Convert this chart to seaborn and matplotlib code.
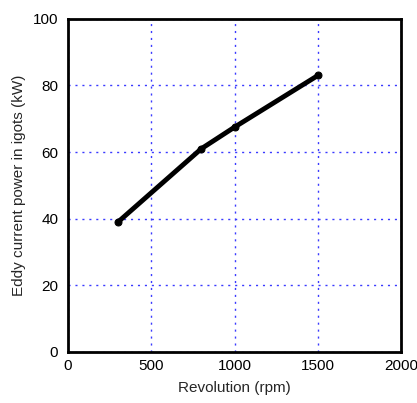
import matplotlib
matplotlib.use("Agg")
import matplotlib.pyplot as plt
import seaborn as sns
import pandas as pd

revolution = [300, 800, 1000, 1500]
power = [39, 61, 67.5, 83]
xticks = [0, 500, 1000, 1500, 2000]
yticks = [0, 20, 40, 60, 80, 100]

sns.set_style("white")
plt.rcParams['font.family'] = ['Liberation Sans', 'DejaVu Sans']

df = pd.DataFrame({"rev": revolution, "pw": power})
fig = plt.figure(figsize=(4.17, 4.03), dpi=100)
ax = fig.add_axes([0.163, 0.1266, 0.799, 0.8266])
sns.lineplot(data=df, x="rev", y="pw", ax=ax, color="black", linewidth=3.5,
             marker="o", markersize=5, markeredgecolor="black")
ax.set_xlim(0, 2000)
ax.set_ylim(0, 100)
ax.set_xticks(xticks)
ax.set_yticks(yticks)
ax.grid(True, color="#3a3aff", linestyle=(0, (1.5, 3.5)), linewidth=1.0)
ax.tick_params(direction="in", length=10, width=2, labelsize=11, colors="black", pad=5)
ax.tick_params(axis="y", pad=7)
for s in ax.spines.values():
    s.set_linewidth(2)
    s.set_color("black")
ax.set_xlabel("Revolution (rpm)", fontsize=11, labelpad=6)
ax.set_ylabel("Eddy current power in igots (kW)", fontsize=11, labelpad=5)
fig.savefig("out.png", dpi=100)
